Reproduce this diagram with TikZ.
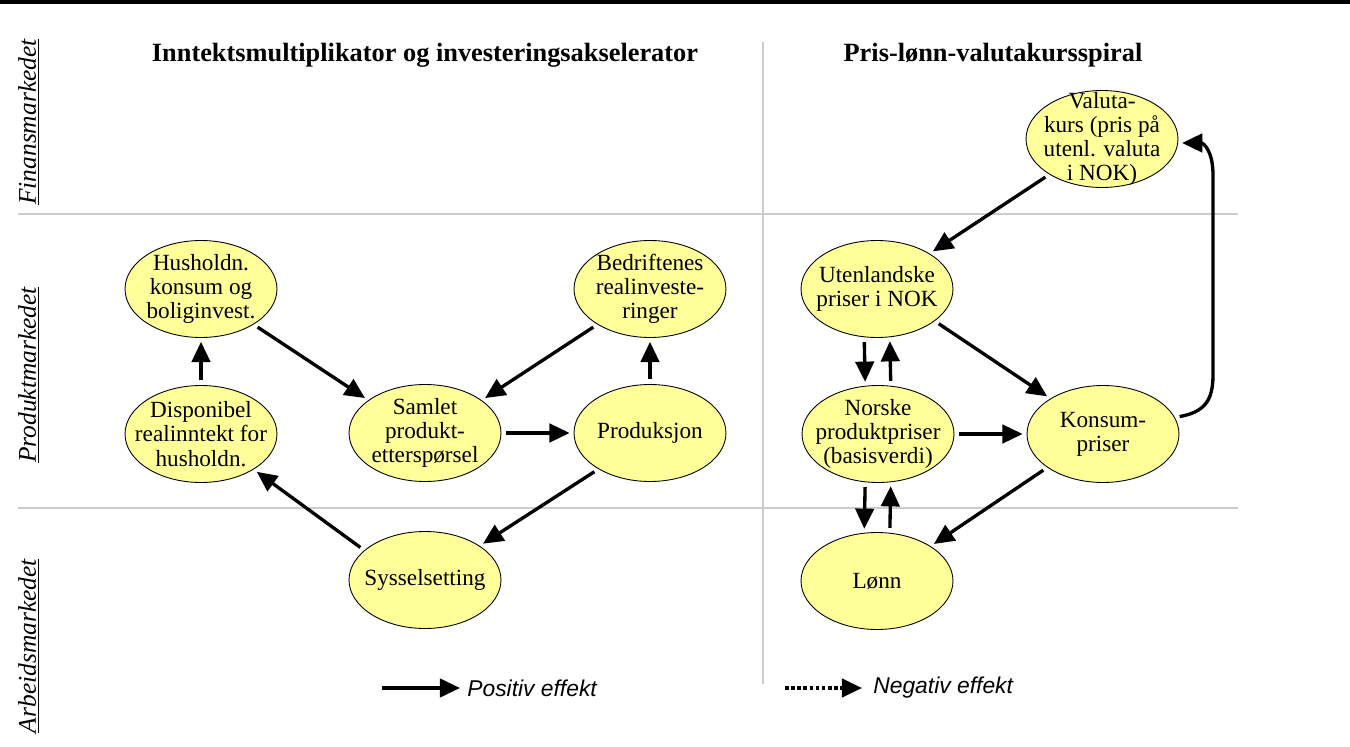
\documentclass[tikz,border=0pt]{standalone}
\usepackage{fontspec}
\setmainfont{Liberation Serif}
\newfontfamily\legendfont{Liberation Sans}
\usepackage{tikz}
\usetikzlibrary{arrows.meta}
\usetikzlibrary{shapes}
\definecolor{bubblefill}{RGB}{255,255,153}
\definecolor{gridgray}{RGB}{204,204,204}
\tikzstyle{arrow} = [line width=1.9pt,-{Triangle[length=11.5pt,width=10.5pt]},shorten <=3pt,shorten >=2.5pt]
\tikzstyle{key-arrow} = [line width=1.9pt,-{Triangle[length=11.5pt,width=10.5pt]}]
\tikzstyle{divider} = [draw=gridgray, line width=0.6pt]
\tikzstyle{heading} = [font=\fontsize{15}{18}\selectfont\bfseries]
\tikzstyle{market} = [rotate=90, inner sep=0pt, font=\fontsize{14.5}{17}\selectfont\itshape]
\tikzstyle{legend} = [anchor=west, inner sep=0pt, font=\legendfont\fontsize{13}{15}\selectfont\itshape]
\tikzset{
  bubble/.style={ellipse, draw, line width=0.5pt, fill=bubblefill,
    minimum width=3.04cm, minimum height=1.94cm, inner sep=0pt, outer sep=0pt,
    label={[bubble-text]center:{#1}}},
  bubble-text/.style={align=center, inner sep=0pt, font=\fontsize{13.2}{13.8}\selectfont}
}

\begin{document}
\begin{tikzpicture}[x=0.02cm, y=-0.02cm]
        \useasboundingbox (0,0) rectangle (1350,747);
        \draw[line width=2.3pt] (0,2) -- (1350,2);
        \draw[divider] (18,214) -- (1238,214);
        \draw[divider] (18,508) -- (1238,508);
        \draw[divider] (763,42) -- (763,684);

        \node[heading] (title-left) at (425,55) {Inntektsmultiplikator og investeringsakselerator};
        \node[heading] (title-right) at (993,55) {Pris-lønn-valutakursspiral};

        \node[market] (finans) at (29,122) {\underline{Finansmarkedet}};
        \node[market] (produkt) at (29,375) {\underline{Produktmarkedet}};
        \node[market] (arbeid) at (29,646) {\underline{Arbeidsmarkedet}};

        % inntektsmultiplikator
        \node[bubble={Husholdn.\\konsum og\\boliginvest.}] (hush) at (201,289) {};
        \node[bubble={Disponibel\\realinntekt for\\husholdn.}] (disp) at (201,434) {};
        \node[bubble={Samlet\\produkt-\\etterspørsel}] (samlet) at (425,433) {};
        \node[bubble={Bedriftenes\\realinveste-\\ringer}] (bedr) at (650,289) {};
        \node[bubble={Produksjon}] (prod) at (650,433) {};
        \node[bubble={Sysselsetting}] (syss) at (425,580) {};

        % pris-lonn-spiral
        \node[bubble={Valuta-\\kurs (pris på\\utenl. valuta\\i NOK)}] (valuta) at (1102,139) {};
        \node[bubble={Utenlandske\\priser i NOK}] (uten) at (877,289) {};
        \node[bubble={Norske\\produktpriser\\(basisverdi)}] (norske) at (878,434) {};
        \node[bubble={Konsum-\\priser}] (konsum) at (1103,434) {};
        \node[bubble={Lønn}] (lonn) at (877,581) {};

        \draw[arrow] (disp.north) -- (hush.south);
        \draw[arrow] (hush.-34) -- (samlet.150);
        \draw[arrow] (bedr.-146) -- (samlet.30);
        \draw[arrow] (samlet.east) -- (prod.west);
        \draw[arrow] (prod.north) -- (bedr.south);
        \draw[arrow] (prod.-145) -- (syss.32);
        \draw[arrow] (syss.154) -- (disp.-34);

        \draw[arrow] (valuta.-146) -- (uten.34);
        \draw[arrow] (uten.-29) -- (konsum.146);
        \draw[arrow] (uten.-105) -- (norske.105);
        \draw[arrow] (norske.75) -- (uten.-75);
        \draw[arrow] (norske.east) -- (konsum.west);
        \draw[arrow] (konsum.-149) -- (lonn.33);
        \draw[arrow] (norske.-105) -- (lonn.105);
        \draw[arrow] (lonn.75) -- (norske.-75);
        \draw[arrow] (konsum.13) .. controls (1205,412) and (1213,400) .. (1213,375)
              -- (1213,175) .. controls (1213,150) and (1203,143) .. (valuta.-3);

        % forklaring
        \coordinate (pos-a) at (382,688);
        \coordinate (pos-b) at (460,688);
        \draw[key-arrow] (pos-a) -- (pos-b);
        \node[legend] (pos-text) at (467,688) {Positiv effekt};
        \coordinate (neg-a) at (785,688);
        \coordinate (neg-b) at (862,688);
        \draw[key-arrow, dash pattern=on 2pt off 1.5pt] (neg-a) -- (neg-b);
        \node[legend] (neg-text) at (873,688) {Negativ effekt};
\end{tikzpicture}
\end{document}
